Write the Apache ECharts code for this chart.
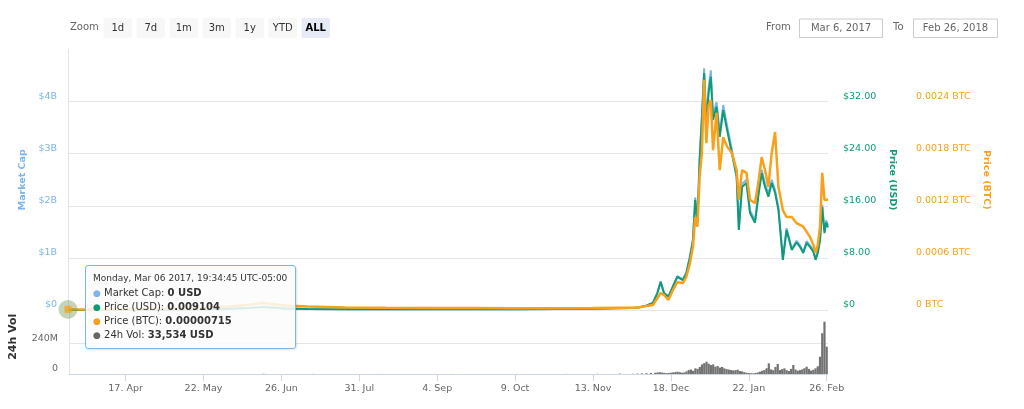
<!DOCTYPE html>
<html>
<head>
<meta charset="utf-8">
<script src="https://cdn.jsdelivr.net/npm/echarts@6/dist/echarts.min.js"></script>
<style>
html,body{margin:0;padding:0;background:#fff;}
#chart{width:1024px;height:409px;}
</style>
</head>
<body>
<div id="chart"></div>
<script>
// ---------- data ----------
const zoomButtons = ['1d', '7d', '1m', '3m', '1y', 'YTD', 'ALL'];
const selectedZoom = 'ALL';
const rangeLabels = ['From', 'Mar 6, 2017', 'To', 'Feb 26, 2018'];
const tooltipHeader = 'Monday, Mar 06 2017, 19:34:45 UTC-05:00';

const xTickDates = ['2017-04-17', '2017-05-22', '2017-06-26', '2017-07-31', '2017-09-04',
  '2017-10-09', '2017-11-13', '2017-12-18', '2018-01-22', '2018-02-26'];

const priceDates = [
  '2017-03-22T14:00', '2017-04-05', '2017-04-20', '2017-05-05', '2017-05-20', '2017-06-03',
  '2017-06-12', '2017-06-18', '2017-06-22', '2017-06-28', '2017-07-08', '2017-07-25',
  '2017-08-12', '2017-09-01', '2017-09-20', '2017-10-10', '2017-10-28', '2017-11-13',
  '2017-11-24', '2017-12-01', '2017-12-04', '2017-12-07', '2017-12-10', '2017-12-12',
  '2017-12-13T12:00', '2017-12-15', '2017-12-17', '2017-12-19', '2017-12-21', '2017-12-23T12:00',
  '2017-12-25', '2017-12-26T16:00', '2017-12-28', '2017-12-29', '2017-12-30', '2017-12-31',
  '2018-01-01', '2018-01-02', '2018-01-03', '2018-01-04', '2018-01-05', '2018-01-06',
  '2018-01-07T14:00', '2018-01-09', '2018-01-10T14:00', '2018-01-12T08:00', '2018-01-14T10:00', '2018-01-16T14:00',
  '2018-01-17T14:00', '2018-01-19', '2018-01-21', '2018-01-22T14:00', '2018-01-24T20:00', '2018-01-26T12:00',
  '2018-01-27T20:00', '2018-01-29T08:00', '2018-01-30T20:00', '2018-02-01T08:00', '2018-02-02T20:00', '2018-02-04T08:00',
  '2018-02-06T08:00', '2018-02-08', '2018-02-10T08:00', '2018-02-12T12:00', '2018-02-14', '2018-02-15T12:00',
  '2018-02-17', '2018-02-18T12:00', '2018-02-20', '2018-02-21', '2018-02-22', '2018-02-23',
  '2018-02-24', '2018-02-25', '2018-02-25T18:00', '2018-02-26T14:00'
];

const priceUsd = [
  0.009104, 0.012, 0.02, 0.04, 0.09, 0.2,
  0.32, 0.45, 0.4, 0.24, 0.16, 0.12,
  0.13, 0.14, 0.12, 0.13, 0.14, 0.18,
  0.25, 0.3, 0.4, 0.65, 1.07, 2.56,
  4.3, 2.56, 2.05, 3.6, 5.1, 4.6,
  5.6, 8.1, 10.7, 16.9, 13.4, 23.0,
  29.2, 36.4, 28.1, 33.3, 35.8, 29.2,
  31.2, 26.6, 30.7, 27.6, 24.1, 20.4,
  12.3, 18.9, 19.5, 14.9, 13.4, 18.0,
  21.0, 18.9, 17.4, 19.5, 18.0, 15.4,
  7.7, 12.3, 9.2, 10.4, 9.7, 8.75,
  10.3, 9.7, 8.95, 7.7, 8.75, 10.7,
  15.8, 11.8, 13.4, 12.7
];

const priceBtc = [
  0.00000715, 0.000009, 0.000012, 0.000016, 0.000022, 0.00004,
  0.00006, 0.00008, 0.00007, 0.000052, 0.00004, 0.00003,
  0.000025, 0.000024, 0.000022, 0.00002, 0.00002, 0.000022,
  0.000025, 0.000026, 0.000031, 0.000046, 0.000058, 0.000135,
  0.000196, 0.000173, 0.000115, 0.00023, 0.00032, 0.00031,
  0.00038, 0.00054, 0.00073, 0.00107, 0.00096, 0.00154,
  0.00181, 0.00265, 0.00192, 0.00235, 0.00242, 0.00184,
  0.00227, 0.00161, 0.00199, 0.00188, 0.00181, 0.00161,
  0.00127, 0.00161, 0.00158, 0.00127, 0.00123, 0.0015,
  0.00176, 0.00161, 0.00142, 0.00181, 0.00205, 0.00142,
  0.00115, 0.00107, 0.00107, 0.001, 0.00098, 0.00096,
  0.0009, 0.00084, 0.00075, 0.00066, 0.00075, 0.00096,
  0.00158, 0.00127, 0.00125, 0.00127
];

const marketCap = [
  0, 0, 0, 0.004e9, 0.011e9, 0.025e9,
  0.04e9, 0.056e9, 0.05e9, 0.03e9, 0.02e9, 0.015e9,
  0.016e9, 0.018e9, 0.015e9, 0.016e9, 0.018e9, 0.023e9,
  0.032e9, 0.038e9, 0.051e9, 0.083e9, 0.137e9, 0.33e9,
  0.55e9, 0.33e9, 0.26e9, 0.46e9, 0.65e9, 0.59e9,
  0.72e9, 1.04e9, 1.37e9, 2.16e9, 1.72e9, 2.94e9,
  3.74e9, 4.64e9, 3.6e9, 4.26e9, 4.6e9, 3.74e9,
  3.99e9, 3.4e9, 3.93e9, 3.53e9, 3.08e9, 2.61e9,
  1.57e9, 2.42e9, 2.5e9, 1.91e9, 1.72e9, 2.3e9,
  2.69e9, 2.42e9, 2.23e9, 2.5e9, 2.3e9, 1.97e9,
  0.99e9, 1.57e9, 1.18e9, 1.33e9, 1.24e9, 1.12e9,
  1.32e9, 1.24e9, 1.15e9, 0.99e9, 1.12e9, 1.37e9,
  2.02e9, 1.51e9, 1.72e9, 1.63e9
];

const volDates = [
  '2017-03-22T14:00', '2017-04-15', '2017-05-15', '2017-06-01', '2017-06-18', '2017-07-10',
  '2017-08-10', '2017-09-10', '2017-10-10', '2017-11-01', '2017-11-15', '2017-11-25',
  '2017-12-01', '2017-12-03', '2017-12-05', '2017-12-07', '2017-12-09', '2017-12-11',
  '2017-12-12', '2017-12-13', '2017-12-14', '2017-12-15', '2017-12-16', '2017-12-17',
  '2017-12-18', '2017-12-19', '2017-12-20', '2017-12-21', '2017-12-22', '2017-12-23',
  '2017-12-24', '2017-12-25', '2017-12-26', '2017-12-27', '2017-12-28', '2017-12-29',
  '2017-12-30', '2017-12-31', '2018-01-01', '2018-01-02', '2018-01-03', '2018-01-04',
  '2018-01-05', '2018-01-06', '2018-01-07', '2018-01-08', '2018-01-09', '2018-01-10',
  '2018-01-11', '2018-01-12', '2018-01-13', '2018-01-14', '2018-01-15', '2018-01-16',
  '2018-01-17', '2018-01-18', '2018-01-19', '2018-01-20', '2018-01-21', '2018-01-22',
  '2018-01-23', '2018-01-24', '2018-01-25', '2018-01-26', '2018-01-27', '2018-01-28',
  '2018-01-29', '2018-01-30', '2018-01-31', '2018-02-01', '2018-02-02', '2018-02-03',
  '2018-02-04', '2018-02-05', '2018-02-06', '2018-02-07', '2018-02-08', '2018-02-09',
  '2018-02-10', '2018-02-11', '2018-02-12', '2018-02-13', '2018-02-14', '2018-02-15',
  '2018-02-16', '2018-02-17', '2018-02-18', '2018-02-19', '2018-02-20', '2018-02-21',
  '2018-02-22', '2018-02-23', '2018-02-24', '2018-02-25', '2018-02-26'
];

const volume = [
  33534, 60000, 200000, 500000, 2000000, 800000,
  500000, 600000, 500000, 700000, 1500000, 3000000,
  2e6, 3e6, 5e6, 6e6, 8e6, 10e6,
  12e6, 14e6, 11e6, 9e6, 7e6, 8e6,
  10e6, 12e6, 15e6, 18e6, 14e6, 10e6,
  12e6, 20e6, 31e6, 35e6, 25e6, 44e6,
  40e6, 55e6, 75e6, 85e6, 96e6, 80e6,
  70e6, 75e6, 57e6, 62e6, 50e6, 55e6,
  44e6, 38e6, 35e6, 31e6, 28e6, 30e6,
  34e6, 23e6, 20e6, 14e6, 10e6, 8e6,
  6e6, 5e6, 8e6, 12e6, 18e6, 25e6,
  31e6, 45e6, 83e6, 36e6, 30e6, 55e6,
  78e6, 31e6, 38e6, 44e6, 30e6, 23e6,
  40e6, 70e6, 35e6, 26e6, 30e6, 36e6,
  45e6, 57e6, 40e6, 26e6, 33e6, 44e6,
  60e6, 135e6, 318e6, 408e6, 213e6
];

// ---------- helpers ----------
const FONT = '"DejaVu Sans", Verdana, sans-serif';
const MONTHS = ['Jan','Feb','Mar','Apr','May','Jun','Jul','Aug','Sep','Oct','Nov','Dec'];
function toTs(s) { return Date.parse(s.length === 10 ? s + 'T00:00:00Z' : s + ':00Z'); }
const C_MC = '#7cb5ec', C_USD = '#109b78', C_BTC = '#f9a11b', C_VOL = '#727272';
const GRID_LINE = '#e6e6e6';

const xMin = toTs(priceDates[0]);
const xMax = toTs(priceDates[priceDates.length - 1]);
const zip = (ds, vs) => ds.map((d, i) => [toTs(d), vs[i]]);
const tickTs = xTickDates.map(toTs);

// ---------- toolbar graphics ----------
const graphics = [];
graphics.push({ type: 'text', x: 70, y: 27, style: { text: 'Zoom', fill: '#666', font: '10px ' + FONT, verticalAlign: 'middle' } });
zoomButtons.forEach((b, i) => {
  const bx = 103.5 + i * 33.0;
  const sel = b === selectedZoom;
  graphics.push({ type: 'rect', shape: { x: bx, y: 18, width: 28.5, height: 20, r: 2 }, style: { fill: sel ? '#e6ebf5' : '#f7f7f7' } });
  graphics.push({ type: 'text', x: bx + 14.25, y: 28, style: { text: b, fill: sel ? '#000' : '#333', font: (sel ? 'bold ' : '') + '10px ' + FONT, align: 'center', verticalAlign: 'middle' } });
});
graphics.push({ type: 'text', x: 766, y: 27, style: { text: rangeLabels[0], fill: '#666', font: '10px ' + FONT, verticalAlign: 'middle' } });
graphics.push({ type: 'rect', shape: { x: 799.5, y: 19, width: 83, height: 18.5 }, style: { fill: '#fff', stroke: '#cccccc', lineWidth: 1 } });
graphics.push({ type: 'text', x: 841, y: 28, style: { text: rangeLabels[1], fill: '#666', font: '10px ' + FONT, align: 'center', verticalAlign: 'middle' } });
graphics.push({ type: 'text', x: 893, y: 27, style: { text: rangeLabels[2], fill: '#666', font: '10px ' + FONT, verticalAlign: 'middle' } });
graphics.push({ type: 'rect', shape: { x: 913.5, y: 19, width: 84, height: 18.5 }, style: { fill: '#fff', stroke: '#cccccc', lineWidth: 1 } });
graphics.push({ type: 'text', x: 955.5, y: 28, style: { text: rangeLabels[3], fill: '#666', font: '10px ' + FONT, align: 'center', verticalAlign: 'middle' } });

// ---------- tooltip content ----------
function tooltipHtml() {
  const rows = [
    [C_MC, 'Market Cap', marketCap[0].toLocaleString('en-US') + ' USD'],
    [C_USD, 'Price (USD)', String(priceUsd[0])],
    [C_BTC, 'Price (BTC)', priceBtc[0].toFixed(8)],
    ['#666', '24h Vol', volume[0].toLocaleString('en-US') + ' USD']
  ];
  let h = '<div style="font-size:9px;line-height:12px;color:#333;margin-bottom:2px">' + tooltipHeader + '</div>';
  rows.forEach(r => {
    h += '<div style="font-size:10px;line-height:13px;color:#333"><span style="color:' + r[0] + ';font-size:9px">\u25CF</span> ' + r[1] + ': <b>' + r[2] + '</b></div>';
  });
  return h;
}

const axisLabelBase = { fontFamily: FONT, fontSize: 9.5, verticalAlign: 'bottom', showMaxLabel: false };
const nameStyle = (c, size) => ({ fontFamily: FONT, fontSize: size || 9.5, fontWeight: 'bold', color: c });

const option = {
  animation: false,
  textStyle: { fontFamily: FONT },
  graphic: graphics,
  grid: [
    { left: 68, right: 196, top: 49.5, height: 260.5 },
    { left: 68, right: 196, top: 312.5, height: 61.5 }
  ],
  tooltip: {
    trigger: 'item',
    triggerOn: 'none',
    alwaysShowContent: true,
    transitionDuration: 0,
    position: [85, 265],
    backgroundColor: 'rgba(252,252,252,0.86)',
    borderColor: C_MC,
    borderWidth: 1,
    padding: [6, 8, 6, 7],
    extraCssText: 'border-radius:3px;box-shadow:1px 1px 2px rgba(0,0,0,0.12);font-family:' + FONT + ';',
    formatter: tooltipHtml
  },
  xAxis: [
    { type: 'value', gridIndex: 0, min: xMin, max: xMax, show: false, splitLine: { show: false } },
    {
      type: 'value', gridIndex: 1, min: xMin, max: xMax,
      axisLine: { show: true, lineStyle: { color: '#ccd6eb', width: 1 } },
      axisTick: { show: true, length: 7, lineStyle: { color: '#ccd6eb' }, customValues: tickTs },
      axisLabel: {
        customValues: tickTs, color: '#666', fontFamily: FONT, fontSize: 9.5, margin: 10,
        formatter: v => { const d = new Date(v); return d.getUTCDate() + '. ' + MONTHS[d.getUTCMonth()]; }
      },
      splitLine: { show: false }
    }
  ],
  yAxis: [
    {
      type: 'value', gridIndex: 0, position: 'left', min: 0, max: 5e9, interval: 1e9,
      name: 'Market Cap', nameLocation: 'middle', nameGap: 38, nameRotate: 90, nameTextStyle: nameStyle(C_MC),
      axisLine: { show: true, lineStyle: { color: '#dfe4ec', width: 1 } },
      axisTick: { show: false },
      axisLabel: Object.assign({}, axisLabelBase, { color: C_MC, margin: 11, formatter: v => v === 0 ? '$0' : '$' + (v / 1e9) + 'B' }),
      splitLine: { show: true, lineStyle: { color: [GRID_LINE, GRID_LINE, GRID_LINE, GRID_LINE, GRID_LINE, 'rgba(0,0,0,0)'], width: 1 } }
    },
    {
      type: 'value', gridIndex: 0, position: 'right', min: 0, max: 40, interval: 8,
      name: 'Price (USD)', nameLocation: 'middle', nameGap: 58, nameRotate: -90, nameTextStyle: nameStyle(C_USD),
      axisLine: { show: false }, axisTick: { show: false },
      axisLabel: Object.assign({}, axisLabelBase, { color: C_USD, margin: 15, formatter: v => v === 0 ? '$0' : '$' + v.toFixed(2) }),
      splitLine: { show: false }
    },
    {
      type: 'value', gridIndex: 0, position: 'right', offset: 73, min: 0, max: 0.003, interval: 0.0006,
      name: 'Price (BTC)', nameLocation: 'middle', nameGap: 79, nameRotate: -90, nameTextStyle: nameStyle(C_BTC),
      axisLine: { show: false }, axisTick: { show: false },
      axisLabel: Object.assign({}, axisLabelBase, { color: C_BTC, margin: 15, formatter: v => v === 0 ? '0 BTC' : v.toFixed(4) + ' BTC' }),
      splitLine: { show: false }
    },
    {
      type: 'value', gridIndex: 1, position: 'left', min: 0, max: 480e6, interval: 240e6,
      name: '24h Vol', nameLocation: 'middle', nameGap: 50, nameRotate: 90,
      nameTextStyle: Object.assign(nameStyle('#333', 11), { padding: [0, 0, 0, 13] }),
      axisLine: { show: true, lineStyle: { color: '#dfe4ec', width: 1 } },
      axisTick: { show: false },
      axisLabel: Object.assign({}, axisLabelBase, { color: '#666', margin: 11, formatter: v => v === 0 ? '0' : (v / 1e6) + 'M' }),
      splitLine: { show: true, lineStyle: { color: [GRID_LINE, GRID_LINE, 'rgba(0,0,0,0)'], width: 1 } }
    }
  ],
  series: [
    {
      name: 'Market Cap', type: 'line', xAxisIndex: 0, yAxisIndex: 0, data: zip(priceDates, marketCap),
      symbol: 'none', lineStyle: { color: C_MC, width: 2 }, itemStyle: { color: C_MC }, z: 2
    },
    {
      name: 'Price (USD)', type: 'line', xAxisIndex: 0, yAxisIndex: 1, data: zip(priceDates, priceUsd),
      symbol: 'none', lineStyle: { color: C_USD, width: 2 }, itemStyle: { color: C_USD }, z: 3
    },
    {
      name: 'Price (BTC)', type: 'line', xAxisIndex: 0, yAxisIndex: 2, data: zip(priceDates, priceBtc),
      symbol: 'none', lineStyle: { color: C_BTC, width: 2.5 }, itemStyle: { color: C_BTC }, z: 4
    },
    {
      name: '24h Vol', type: 'bar', xAxisIndex: 1, yAxisIndex: 3, data: zip(volDates, volume),
      barWidth: 2.2, itemStyle: { color: C_VOL }, z: 2
    },
    {
      name: 'halo', type: 'scatter', xAxisIndex: 0, yAxisIndex: 2, data: [[xMin, priceBtc[0]]],
      symbol: 'circle', symbolSize: 19, itemStyle: { color: 'rgba(104,150,72,0.5)' }, z: 5, silent: true
    },
    {
      name: 'marker', type: 'scatter', xAxisIndex: 0, yAxisIndex: 2, data: [[xMin, priceBtc[0]]],
      symbol: 'rect', symbolSize: 7, itemStyle: { color: C_BTC }, z: 6
    }
  ]
};

const chart = echarts.init(document.getElementById('chart'), null, { renderer: 'canvas' });
chart.setOption(option);
chart.dispatchAction({ type: 'showTip', seriesIndex: 5, dataIndex: 0 });
</script>
</body>
</html>
